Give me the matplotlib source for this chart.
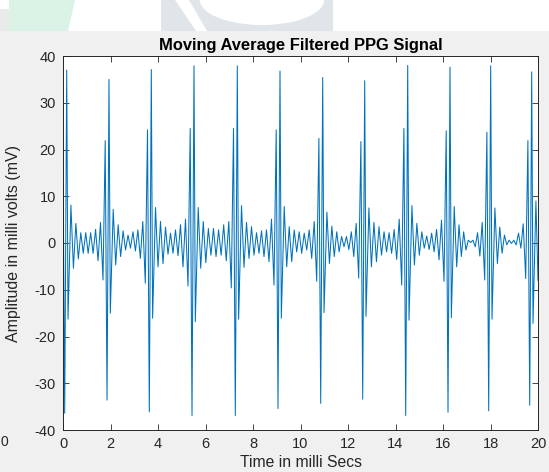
import numpy as np
import matplotlib.pyplot as plt
from matplotlib.patches import Rectangle, Polygon, Ellipse

plt.rcParams['font.family'] = ['Liberation Sans', 'DejaVu Sans']
plt.rcParams['axes.unicode_minus'] = False

# ---- data ----
# time of the main (positive) spike of each beat, ms
beat_peak_t = [0.156, 1.937, 3.718, 5.516, 7.339, 9.137,
               10.935, 12.703, 14.514, 16.295, 18.008, 19.735]
# spike shape values per beat
pre_dip = [np.nan, -7.9, -8.6, -9.2, -9.6, -9.0, -8.2, -7.5, -9.0, -8.2, -7.9, -7.6]
pre_peak = [18.6, 21.9, 24.2, 24.5, 24.5, 24.2, 22.4, 21.7, 24.5, 24.0, 23.7, 21.9]
trough = [-36.4, -33.6, -36.1, -36.9, -36.9, -35.4, -34.3, -33.4, -36.9, -36.2, -35.9, -34.7]
peak = [37.0, 35.0, 37.1, 37.9, 37.9, 36.8, 35.4, 34.7, 38.0, 37.6, 37.9, 36.6]
post_trough = [-16.3, -15.0, -16.1, -16.8, -16.3, -16.1, -14.9, -15.7, -16.5, -16.0, -16.3, -17.2]
post_peak = [8.1, 7.2, 7.6, 7.6, 8.0, 7.8, 6.6, 7.5, 8.0, 7.8, 7.5, 9.0]
# time of the spike shape points relative to the main spike, ms
spike_dt = [-0.253, -0.160, -0.084, 0.0, 0.055, 0.177]

# small ripple extremes between beats
ripple = [
    [-5.4, 4.2, -3.4, 2.2, -2.2, 2.2, -2.2, 2.2, -2.2, 2.9, -3.8, 4.4],
    [-4.7, 3.9, -2.9, 2.6, -1.5, 1.7, -1.1, 2.4, -1.7, 2.8, -3.3, 4.6],
    [-5.1, 4.6, -4.4, 3.4, -2.4, 2.1, -2.2, 2.8, -2.7, 3.9, -5.1, 5.1],
    [-5.4, 4.6, -4.2, 3.1, -2.6, 3.1, -2.9, 2.8, -2.6, 3.9, -3.8, 4.6],
    [-5.2, 4.4, -3.3, 3.5, -2.6, 2.2, -2.2, 2.6, -2.9, 2.8, -4.0, 5.1],
    [-5.1, 3.5, -4.0, 2.8, -1.9, 2.4, -2.2, 2.1, -1.5, 2.8, -3.3, 4.6],
    [-4.4, 3.6, -2.9, 2.4, -1.9, 1.4, -0.8, 1.4, -1.4, 2.4, -2.9, 4.2],
    [-5.1, 4.4, -4.0, 3.5, -2.6, 2.4, -1.9, 2.2, -2.2, 2.9, -3.5, 5.1],
    [-4.7, 4.2, -2.6, 2.4, -1.1, 1.5, -1.4, 2.1, -1.9, 2.9, -3.6, 4.9],
    [-5.1, 3.9, -2.9, 2.4, -1.5, 0.6, 0.1, 0.6, -0.8, 2.2, -2.8, 4.4],
    [-4.4, 3.4, -2.2, 1.7, -0.4, 0.6, -0.1, 0.6, -0.4, 2.1, -1.1, 4.1],
]
end_t, end_v = 20.0, -8.0

# ---- build the trace ----
t, v = [], []
for i, pk in enumerate(beat_peak_t):
    vals = [pre_dip[i], pre_peak[i], trough[i], peak[i], post_trough[i], post_peak[i]]
    for dt, val in zip(spike_dt, vals):
        if not np.isnan(val):
            t.append(max(pk + dt, 0.0))
            v.append(val)
    if i < len(ripple):
        rt = np.linspace(pk + spike_dt[-1] + 0.105, beat_peak_t[i + 1] + spike_dt[0] - 0.105, len(ripple[i]))
        t.extend(rt)
        v.extend(ripple[i])
t.append(end_t)
v.append(end_v)

# ---- figure ----
fig = plt.figure(figsize=(5.49, 4.72), dpi=100, facecolor='#f0f0f0')

# background strip (pixel coordinates)
bg = fig.add_axes([0, 0, 1, 1])
bg.set_xlim(0, 549)
bg.set_ylim(472, 0)
bg.axis('off')
bg.add_patch(Rectangle((0, 0), 549, 31, color='white', lw=0))
bg.add_patch(Rectangle((0, 9), 9, 22, color='#e9eaea', lw=0))
bg.add_patch(Polygon([(9, 0), (75, 0), (68, 31), (9, 31)], color='#dbf2e7', lw=0))
bg.add_patch(Rectangle((161, 0), 172, 31, color='#dfe5e8', lw=0))
bg.add_patch(Ellipse((262, 0), 124, 50, color='white', lw=0))
bg.add_patch(Polygon([(175, 0), (189, 0), (207, 31), (196, 31)], color='white', lw=0))
bg.text(0.5, 442, '0', ha='left', va='center', fontsize=10, color='#262626')

ax = fig.add_axes([63 / 549, 1 - 430 / 472, 475 / 549, 374 / 472])
ax.plot(t, v, color='#0072BD', lw=0.75)

ax.set_xlim(0, 20)
ax.set_ylim(-40, 40)
ax.set_xticks(np.arange(0, 21, 2))
ax.set_yticks(np.arange(-40, 41, 10))
ax.tick_params(direction='in', length=4, width=0.6, top=True, right=True,
               labelsize=10.5, colors='#262626', pad=5)
for s in ax.spines.values():
    s.set_color('#262626')
    s.set_linewidth(0.7)

ax.set_title('Moving Average Filtered PPG Signal', fontsize=11.9, fontweight='bold', pad=4)
ax.set_xlabel('Time in milli Secs', fontsize=11.3, color='#262626')
ax.set_ylabel('Amplitude in milli volts (mV)', fontsize=11.5, color='#262626')
ax.xaxis.set_label_coords(0.5, -0.068)
ax.yaxis.set_label_coords(-0.088, 0.5)

fig.savefig('out.png', dpi=100, facecolor=fig.get_facecolor())
